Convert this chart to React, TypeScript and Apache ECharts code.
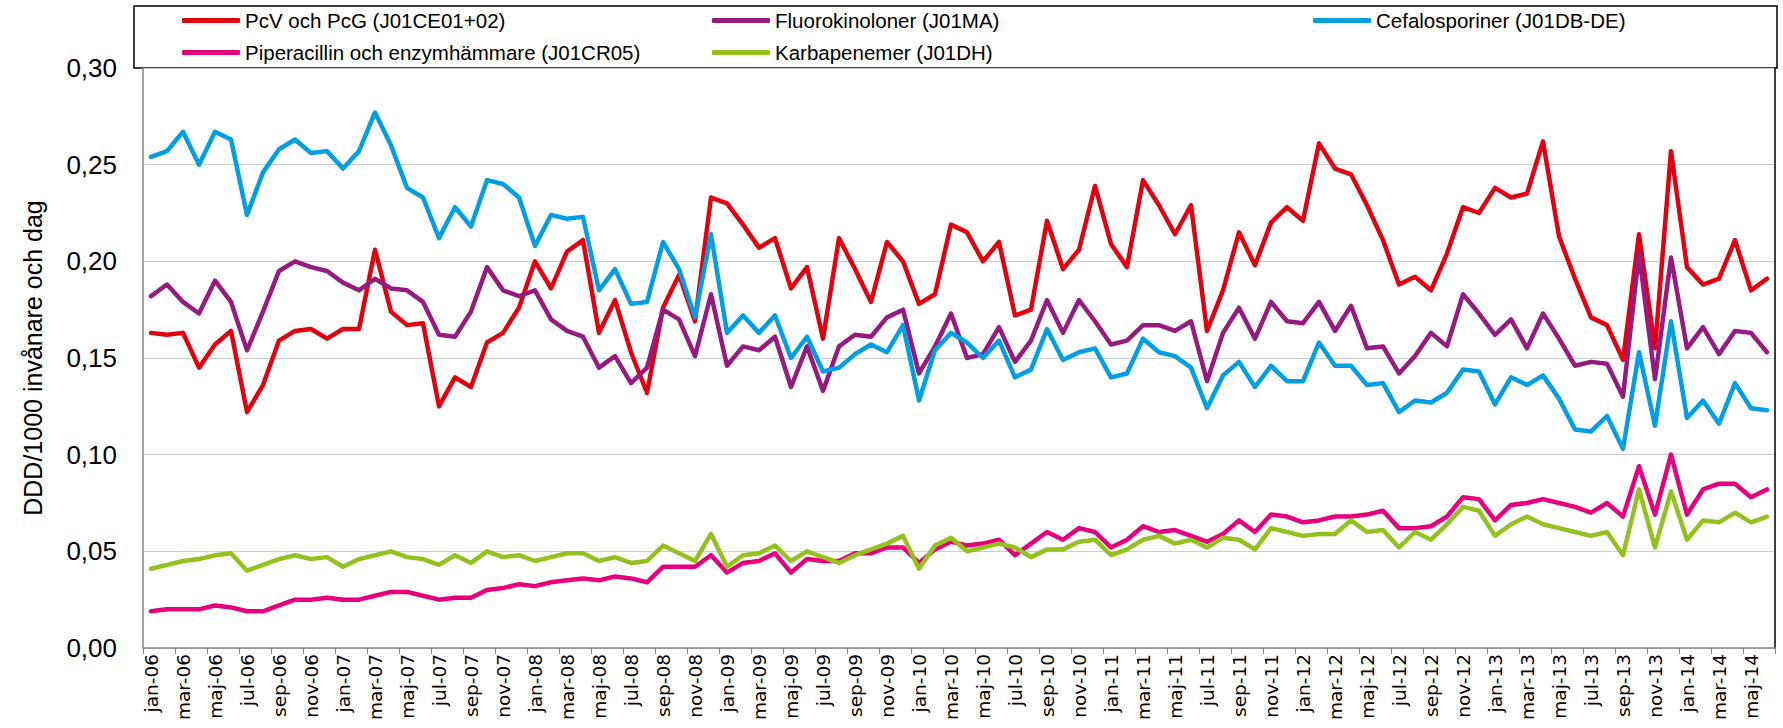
import React, { useEffect, useRef } from "react";
import * as echarts from "echarts";

const monthNames = ["jan", "feb", "mar", "apr", "maj", "jun", "jul", "aug", "sep", "okt", "nov", "dec"];
const yearNames = ["06", "07", "08", "09", "10", "11", "12", "13", "14"];
const lastMonthCount = 6; // data ends jun-14

const categories: string[] = [];
yearNames.forEach((y, yi) => {
  const n = yi === yearNames.length - 1 ? lastMonthCount : 12;
  for (let m = 0; m < n; m++) categories.push(`${monthNames[m]}-${y}`);
});

const seriesNames = [
  "PcV och PcG (J01CE01+02)",
  "Fluorokinoloner (J01MA)",
  "Cefalosporiner (J01DB-DE)",
  "Piperacillin och enzymhämmare (J01CR05)",
  "Karbapenemer (J01DH)",
];

const pcv = [
  0.163, 0.162, 0.163, 0.145, 0.157, 0.164, 0.122, 0.136, 0.159, 0.164, 0.165, 0.160,
  0.165, 0.165, 0.206, 0.174, 0.167, 0.168, 0.125, 0.140, 0.135, 0.158, 0.163, 0.176,
  0.200, 0.186, 0.205, 0.211, 0.163, 0.180, 0.153, 0.132, 0.176, 0.193, 0.169, 0.233,
  0.230, 0.219, 0.207, 0.212, 0.186, 0.197, 0.160, 0.212, 0.196, 0.179, 0.210, 0.200,
  0.178, 0.183, 0.219, 0.215, 0.200, 0.210, 0.172, 0.175, 0.221, 0.196, 0.206, 0.239,
  0.209, 0.197, 0.242, 0.229, 0.214, 0.229, 0.164, 0.185, 0.215, 0.198, 0.220, 0.228,
  0.221, 0.261, 0.248, 0.245, 0.229, 0.211, 0.188, 0.192, 0.185, 0.204, 0.228, 0.225,
  0.238, 0.233, 0.235, 0.262, 0.213, 0.191, 0.171, 0.167, 0.149, 0.214, 0.155, 0.257,
  0.197, 0.188, 0.191, 0.211, 0.185, 0.191,
];

const fluoro = [
  0.182, 0.188, 0.179, 0.173, 0.190, 0.179, 0.154, 0.174, 0.195, 0.200, 0.197, 0.195,
  0.189, 0.185, 0.191, 0.186, 0.185, 0.179, 0.162, 0.161, 0.174, 0.197, 0.185, 0.182,
  0.185, 0.170, 0.164, 0.161, 0.145, 0.151, 0.137, 0.145, 0.175, 0.170, 0.151, 0.183,
  0.146, 0.156, 0.154, 0.161, 0.135, 0.156, 0.133, 0.156, 0.162, 0.161, 0.171, 0.175,
  0.142, 0.156, 0.173, 0.150, 0.152, 0.166, 0.148, 0.159, 0.180, 0.163, 0.180, 0.169,
  0.157, 0.159, 0.167, 0.167, 0.164, 0.169, 0.138, 0.163, 0.176, 0.160, 0.179, 0.169,
  0.168, 0.179, 0.164, 0.177, 0.155, 0.156, 0.142, 0.151, 0.163, 0.156, 0.183, 0.173,
  0.162, 0.170, 0.155, 0.173, 0.160, 0.146, 0.148, 0.147, 0.130, 0.204, 0.139, 0.202,
  0.155, 0.166, 0.152, 0.164, 0.163, 0.153,
];

const cefalo = [
  0.254, 0.257, 0.267, 0.250, 0.267, 0.263, 0.224, 0.246, 0.258, 0.263, 0.256, 0.257,
  0.248, 0.257, 0.277, 0.260, 0.238, 0.233, 0.212, 0.228, 0.218, 0.242, 0.240, 0.233,
  0.208, 0.224, 0.222, 0.223, 0.185, 0.196, 0.178, 0.179, 0.210, 0.196, 0.171, 0.214,
  0.163, 0.172, 0.163, 0.172, 0.150, 0.161, 0.143, 0.145, 0.152, 0.157, 0.153, 0.167,
  0.128, 0.154, 0.163, 0.158, 0.150, 0.159, 0.140, 0.144, 0.165, 0.149, 0.153, 0.155,
  0.140, 0.142, 0.160, 0.153, 0.151, 0.145, 0.124, 0.141, 0.148, 0.135, 0.146, 0.138,
  0.138, 0.158, 0.146, 0.146, 0.136, 0.137, 0.122, 0.128, 0.127, 0.132, 0.144, 0.143,
  0.126, 0.140, 0.136, 0.141, 0.129, 0.113, 0.112, 0.120, 0.103, 0.153, 0.115, 0.169,
  0.119, 0.128, 0.116, 0.137, 0.124, 0.123,
];

const pipera = [
  0.019, 0.020, 0.020, 0.020, 0.022, 0.021, 0.019, 0.019, 0.022, 0.025, 0.025, 0.026,
  0.025, 0.025, 0.027, 0.029, 0.029, 0.027, 0.025, 0.026, 0.026, 0.030, 0.031, 0.033,
  0.032, 0.034, 0.035, 0.036, 0.035, 0.037, 0.036, 0.034, 0.042, 0.042, 0.042, 0.048,
  0.039, 0.044, 0.045, 0.049, 0.039, 0.046, 0.045, 0.045, 0.049, 0.049, 0.052, 0.052,
  0.044, 0.051, 0.055, 0.053, 0.054, 0.056, 0.048, 0.054, 0.060, 0.056, 0.062, 0.060,
  0.052, 0.056, 0.063, 0.060, 0.061, 0.058, 0.055, 0.059, 0.066, 0.060, 0.069, 0.068,
  0.065, 0.066, 0.068, 0.068, 0.069, 0.071, 0.062, 0.062, 0.063, 0.068, 0.078, 0.077,
  0.066, 0.074, 0.075, 0.077, 0.075, 0.073, 0.070, 0.075, 0.068, 0.094, 0.069, 0.100,
  0.069, 0.082, 0.085, 0.085, 0.078, 0.082,
];

const karba = [
  0.041, 0.043, 0.045, 0.046, 0.048, 0.049, 0.040, 0.043, 0.046, 0.048, 0.046, 0.047,
  0.042, 0.046, 0.048, 0.050, 0.047, 0.046, 0.043, 0.048, 0.044, 0.050, 0.047, 0.048,
  0.045, 0.047, 0.049, 0.049, 0.045, 0.047, 0.044, 0.045, 0.053, 0.049, 0.045, 0.059,
  0.042, 0.048, 0.049, 0.053, 0.045, 0.050, 0.047, 0.044, 0.048, 0.051, 0.054, 0.058,
  0.041, 0.053, 0.057, 0.050, 0.052, 0.054, 0.052, 0.047, 0.051, 0.051, 0.055, 0.056,
  0.048, 0.051, 0.056, 0.058, 0.054, 0.056, 0.052, 0.057, 0.056, 0.051, 0.062, 0.060,
  0.058, 0.059, 0.059, 0.066, 0.060, 0.061, 0.052, 0.060, 0.056, 0.064, 0.073, 0.071,
  0.058, 0.064, 0.068, 0.064, 0.062, 0.060, 0.058, 0.060, 0.048, 0.082, 0.052, 0.081,
  0.056, 0.066, 0.065, 0.070, 0.065, 0.068,
];

const seriesData = [pcv, fluoro, cefalo, pipera, karba];
const seriesColors = ["#e3000f", "#951b81", "#009fe3", "#e6007e", "#95c11f"];

const yTicks = { min: 0, max: 0.3, interval: 0.05 };
const yAxisName = "DDD/1000 invånare och dag";

export default function App() {
  const ref = useRef<HTMLDivElement>(null);

  useEffect(() => {
    if (!ref.current) return;
    const chart = echarts.init(ref.current, undefined, { renderer: "svg" });
    const sans = "Liberation Sans, Arial, sans-serif";
    const wide = "DejaVu Sans, Verdana, sans-serif";

    const legendCommon = {
      orient: "vertical" as const,
      top: 10,
      itemGap: 11,
      itemWidth: 58,
      itemHeight: 5,
      icon: "roundRect",
      padding: 0,
      textStyle: { fontFamily: sans, fontSize: 20.5, color: "#000" },
    };

    chart.setOption({
      animation: false,
      backgroundColor: "#fff",
      grid: { left: 143, right: 8, top: 68, bottom: 80, containLabel: false },
      graphic: [
        {
          type: "rect",
          z: -10,
          shape: { x: 134, y: 6, width: 1643, height: 62 },
          style: { fill: "#fff", stroke: "#000", lineWidth: 1.5 },
        },
      ],
      legend: [
        { ...legendCommon, left: 182, data: [seriesNames[0], seriesNames[3]] },
        { ...legendCommon, left: 712, data: [seriesNames[1], seriesNames[4]] },
        { ...legendCommon, left: 1313, data: [seriesNames[2]] },
      ],
      xAxis: {
        type: "category",
        data: categories,
        boundaryGap: true,
        axisLine: { show: true, lineStyle: { color: "#868686", width: 1.5 } },
        axisTick: { show: true, interval: 1, length: 6, lineStyle: { color: "#868686", width: 1 } },
        axisLabel: {
          interval: 1,
          rotate: 90,
          fontFamily: wide,
          fontSize: 18.5,
          color: "#000",
          margin: 6,
        },
        splitLine: { show: false },
      },
      yAxis: [
        {
          type: "value",
          min: yTicks.min,
          max: yTicks.max,
          interval: yTicks.interval,
          name: yAxisName,
          nameLocation: "middle",
          nameGap: 98,
          nameTextStyle: { fontFamily: sans, fontSize: 25, color: "#000" },
          axisLine: { show: true, lineStyle: { color: "#868686", width: 1.5 } },
          axisTick: { show: false },
          axisLabel: {
            fontFamily: sans,
            fontSize: 26,
            color: "#000",
            margin: 26,
            formatter: (v: number) => v.toFixed(2).replace(".", ","),
          },
          splitLine: { show: true, lineStyle: { color: "#cdcdcd", width: 1 } },
        },
        {
          type: "value",
          position: "right",
          min: yTicks.min,
          max: yTicks.max,
          interval: yTicks.interval,
          axisLine: { show: true, lineStyle: { color: "#000", width: 1.5 } },
          axisTick: { show: false },
          axisLabel: { show: false },
          splitLine: { show: false },
        },
      ],
      series: seriesNames.map((name, i) => ({
        name,
        type: "line",
        data: seriesData[i],
        symbol: "none",
        smooth: false,
        color: seriesColors[i],
        itemStyle: { color: seriesColors[i] },
        lineStyle: { color: seriesColors[i], width: 4.5, cap: "round", join: "round" },
      })),
    });

    return () => chart.dispose();
  }, []);

  return (
    <div
      ref={ref}
      style={{ position: "fixed", left: 0, top: 0, width: 1783, height: 728, background: "#fff" }}
    />
  );
}
